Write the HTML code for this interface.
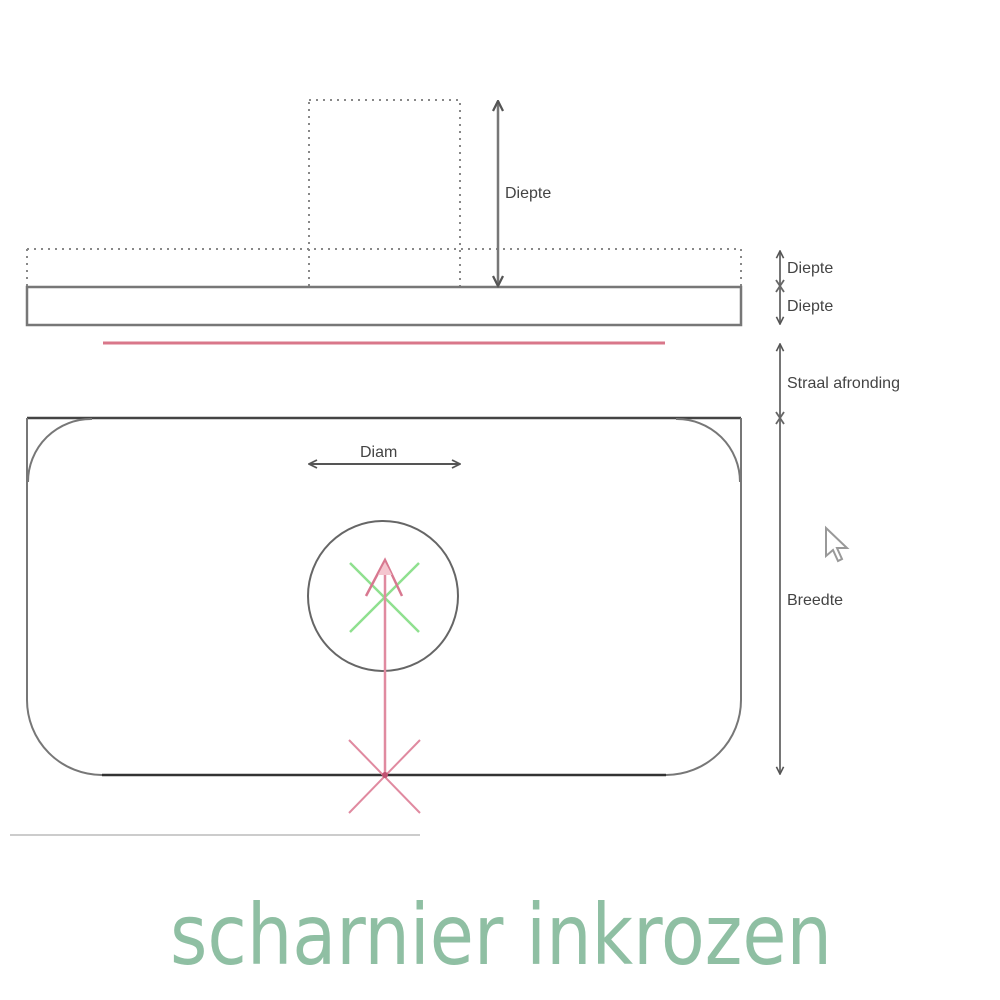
<!DOCTYPE html>
<html><head><meta charset="utf-8"><style>
html,body{margin:0;padding:0;background:#fff;width:1000px;height:1000px;overflow:hidden}
svg{display:block}
text{font-family:"Liberation Sans",sans-serif}
</style></head><body>
<svg width="1000" height="1000" viewBox="0 0 1000 1000" xmlns="http://www.w3.org/2000/svg">
<defs>
<marker id="ah" viewBox="0 0 10 10" refX="9" refY="5" markerWidth="5" markerHeight="5" orient="auto-start-reverse">
<path d="M1 1 L9 5 L1 9" fill="none" stroke="#555" stroke-width="1.8"/>
</marker>
</defs>
<g stroke="#888" stroke-width="2" stroke-dasharray="2 5" fill="none">
<rect x="309" y="100" width="151" height="187"/>
<line x1="27" y1="249" x2="741" y2="249"/>
<line x1="27" y1="249" x2="27" y2="287"/>
<line x1="741" y1="249" x2="741" y2="287"/>
</g>
<rect x="27" y="287" width="714" height="38" fill="none" stroke="#777" stroke-width="2.5"/>
<line x1="103" y1="343" x2="665" y2="343" stroke="#d9778a" stroke-width="3"/>
<line x1="498" y1="101" x2="498" y2="286" stroke="#777" stroke-width="2.5" marker-start="url(#ah)" marker-end="url(#ah)"/>
<text x="505" y="198" font-size="16" fill="#444">Diepte</text>
<g stroke="#666" stroke-width="1.8" fill="none">
<line x1="780" y1="251" x2="780" y2="286" marker-start="url(#ah)"/>
<line x1="780" y1="288" x2="780" y2="324" marker-end="url(#ah)"/>
<line x1="776" y1="280" x2="784" y2="292"/><line x1="784" y1="280" x2="776" y2="292"/>
<line x1="780" y1="344" x2="780" y2="417" marker-start="url(#ah)"/>
<line x1="780" y1="419" x2="780" y2="774" marker-end="url(#ah)"/>
<line x1="776" y1="412" x2="784" y2="424"/><line x1="784" y1="412" x2="776" y2="424"/>
</g>
<text x="787" y="273" font-size="16" fill="#444">Diepte</text>
<text x="787" y="311" font-size="16" fill="#444">Diepte</text>
<text x="787" y="388" font-size="16" fill="#444">Straal afronding</text>
<text x="787" y="605" font-size="16" fill="#444">Breedte</text>
<path d="M826 528 L826 556 L833 550 L838 561 L842 559 L837 548 L847 548 Z" fill="#fff" stroke="#999" stroke-width="2"/>
<g fill="none" stroke="#777" stroke-width="2">
<line x1="27" y1="418" x2="741" y2="418" stroke="#444" stroke-width="2.5"/>
<line x1="27" y1="418" x2="27" y2="700"/>
<line x1="741" y1="418" x2="741" y2="700"/>
<path d="M28 482 A63 63 0 0 1 92 419"/>
<path d="M740 482 A63 63 0 0 0 676 419"/>
<path d="M27 700 A75 75 0 0 0 102 775"/>
<path d="M741 700 A75 75 0 0 1 666 775"/>
<line x1="102" y1="775" x2="666" y2="775" stroke="#333" stroke-width="2.5"/>
</g>
<line x1="309" y1="464" x2="460" y2="464" stroke="#555" stroke-width="2" marker-start="url(#ah)" marker-end="url(#ah)"/>
<text x="360" y="457" font-size="16" fill="#444">Diam</text>
<circle cx="383" cy="596" r="75" fill="none" stroke="#666" stroke-width="2"/>
<g stroke="#8fe08f" stroke-width="2.5">
<line x1="350" y1="563" x2="419" y2="632"/><line x1="419" y1="563" x2="350" y2="632"/>
</g>
<line x1="385" y1="775" x2="385" y2="565" stroke="#e08aa0" stroke-width="2.5"/>
<path d="M366 596 L385 560 L402 596" fill="none" stroke="#d87890" stroke-width="2.5"/>
<path d="M378 575 L385 562 L392 575 Z" fill="#f4c6cf"/>
<g stroke="#e08aa0" stroke-width="2">
<line x1="349" y1="740" x2="420" y2="813"/><line x1="420" y1="740" x2="349" y2="813"/>
</g>
<circle cx="385" cy="775" r="3" fill="#c05070"/>
<line x1="10" y1="835" x2="420" y2="835" stroke="#ccc" stroke-width="2"/>
<text x="170" y="964" font-size="84" fill="#8fbfa3" textLength="662" lengthAdjust="spacingAndGlyphs" style="font-family:'DejaVu Sans Condensed','Liberation Sans',sans-serif">scharnier inkrozen</text>
</svg>
</body></html>
